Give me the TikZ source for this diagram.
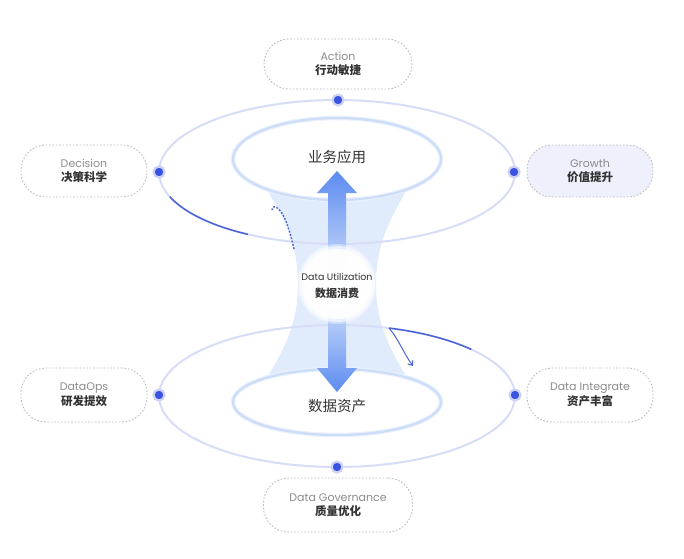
\documentclass[tikz,border=0pt]{standalone}
\usepackage{fontspec}
\setmainfont{Poppins}
\newfontfamily\cjk{Noto Sans CJK SC}
\usetikzlibrary{arrows.meta,calc}
\definecolor{ringc}{HTML}{D8DDF7}
\definecolor{innerc}{HTML}{CCDDF8}
\definecolor{innerglow}{HTML}{EAF1FD}
\definecolor{arrowc}{HTML}{5C8BF0}
\definecolor{arrowl}{HTML}{DCE8FC}
\definecolor{funnelc}{HTML}{DFEAFC}
\definecolor{funnell}{HTML}{F5F9FF}
\definecolor{darkarc}{HTML}{4B63D6}
\definecolor{dotc}{HTML}{3A52E0}
\definecolor{halo}{HTML}{CDD3F6}
\definecolor{boxline}{HTML}{BDBDBD}
\definecolor{engc}{HTML}{8C8C8C}
\definecolor{cnc}{HTML}{333333}
\definecolor{growthfill}{HTML}{EEF0FC}
\tikzset{
  pill/.style={draw=boxline, line width=0.9pt, dash pattern=on 1.6pt off 1.8pt,
    rounded corners=25pt, minimum width=126pt, minimum height=52pt,
    align=center, inner sep=0pt, fill=white},
  dotnode/.style={circle, fill=dotc, draw=halo, line width=2.2pt, minimum size=11pt, inner sep=0pt},
  outerring/.style={draw=ringc, line width=2pt},
  innerring/.style={draw=innerc, line width=2.2pt},
  mainlabel/.style={font=\cjk\fontsize{14.5}{16}\selectfont, text=cnc},
}
\newcommand{\pilltext}[2]{{\fontsize{11}{13}\selectfont\color{engc}#1}\\[1.5pt]{\cjk\bfseries\fontsize{11.5}{13}\selectfont\color{cnc}#2}}
\begin{document}
\begin{tikzpicture}[x=1pt,y=-1pt]
\useasboundingbox (0,0) rectangle (684,558);
\fill[white] (0,0) rectangle (684,558);

% centres
\coordinate (ct) at (337,172);
\coordinate (cb) at (337,396);
\coordinate (it) at (337,159);
\coordinate (ib) at (337,402);

% funnel
\shade[top color=funnelc, middle color=funnell, bottom color=funnelc, opacity=0.95]
  (266,188) .. controls (290,228) and (298,252) .. (298,285)
  .. controls (298,318) and (288,345) .. (264,382)
  -- (410,382) .. controls (386,345) and (376,318) .. (376,285)
  .. controls (376,252) and (384,228) .. (408,188) -- cycle;

% outer rings
\draw[outerring] (ct) ellipse [x radius=178, y radius=72];
\draw[outerring] (cb) ellipse [x radius=178, y radius=71];

% inner rings
\fill[white] (it) ellipse [x radius=104, y radius=41];
\draw[innerglow, line width=4.5pt] (it) ellipse [x radius=104, y radius=41];
\draw[innerring] (it) ellipse [x radius=104, y radius=41];
\fill[white] (ib) ellipse [x radius=104, y radius=33];
\draw[innerglow, line width=4.5pt] (ib) ellipse [x radius=104, y radius=33];
\draw[innerring] (ib) ellipse [x radius=104, y radius=33];

% arrows
\shade[top color=arrowc, bottom color=arrowl]
  (337,171) -- (357,193) -- (346,193) -- (346,290) -- (328,290) -- (328,193) -- (317,193) -- cycle;
\shade[top color=arrowl, bottom color=arrowc]
  (328,290) -- (346,290) -- (346,368) -- (357,368) -- (337,392) -- (317,368) -- (328,368) -- cycle;

% centre circle
\fill[white, opacity=0.35] (337,284) circle (40);
\fill[white, opacity=0.6] (337,284) circle (38);
\fill[white, opacity=0.9] (337,284) circle (35);
\node[font=\fontsize{9.5}{11}\selectfont, text=cnc] (du) at (337,277) {Data Utilization};
\node[font=\cjk\bfseries\fontsize{11}{12}\selectfont, text=cnc] (dc) at (337,293) {数据消费};

% main labels
\node[mainlabel] (yw) at (337,157) {业务应用};
\node[mainlabel] (zc) at (337,406) {数据资产};

% dark arcs
\draw[darkarc, line width=1.5pt] ([shift={(160:178 and 72)}]ct) arc[start angle=160, end angle=120, x radius=178, y radius=72];
\draw[darkarc, line width=1.5pt] ([shift={(-73:178 and 71)}]cb) arc[start angle=-73, end angle=-41, x radius=178, y radius=71];
\coordinate (ba) at ([shift={(-73:178 and 71)}]cb);
\coordinate (bz) at (413,366);
\draw[darkarc, line width=1pt, -{Straight Barb[length=4pt,width=6pt]}] (ba) .. controls (398,338) and (404,354) .. (bz);
\coordinate (da) at (294,249);
\coordinate (dz) at (272,210);
\draw[darkarc, line width=1.4pt, dash pattern=on 1.8pt off 1.6pt] (da) .. controls (290,232) and (285,212) .. (276,207) .. controls (273,206) and (272,208) .. (dz);

% dots
\node[dotnode] (dA) at (338,100) {};
\node[dotnode] (dD) at (159,172) {};
\node[dotnode] (dG) at (514,172) {};
\node[dotnode] (dO) at (159,395) {};
\node[dotnode] (dI) at (515,395) {};
\node[dotnode] (dV) at (337,467) {};

% pills
\node[pill, minimum width=148pt, minimum height=50pt] (action) at (338,64) {\pilltext{Action}{行动敏捷}};
\node[pill] (decision) at (84,171) {\pilltext{Decision}{决策科学}};
\node[pill, fill=growthfill] (growth) at (590,171) {\pilltext{Growth}{价值提升}};
\node[pill, minimum height=54pt] (dataops) at (84,395) {\pilltext{DataOps}{研发提效}};
\node[pill, minimum height=54pt] (integ) at (590,395) {\pilltext{Data Integrate}{资产丰富}};
\node[pill, minimum width=149pt, minimum height=54pt] (gov) at (338,505) {\pilltext{Data Governance}{质量优化}};
\end{tikzpicture}
\end{document}
